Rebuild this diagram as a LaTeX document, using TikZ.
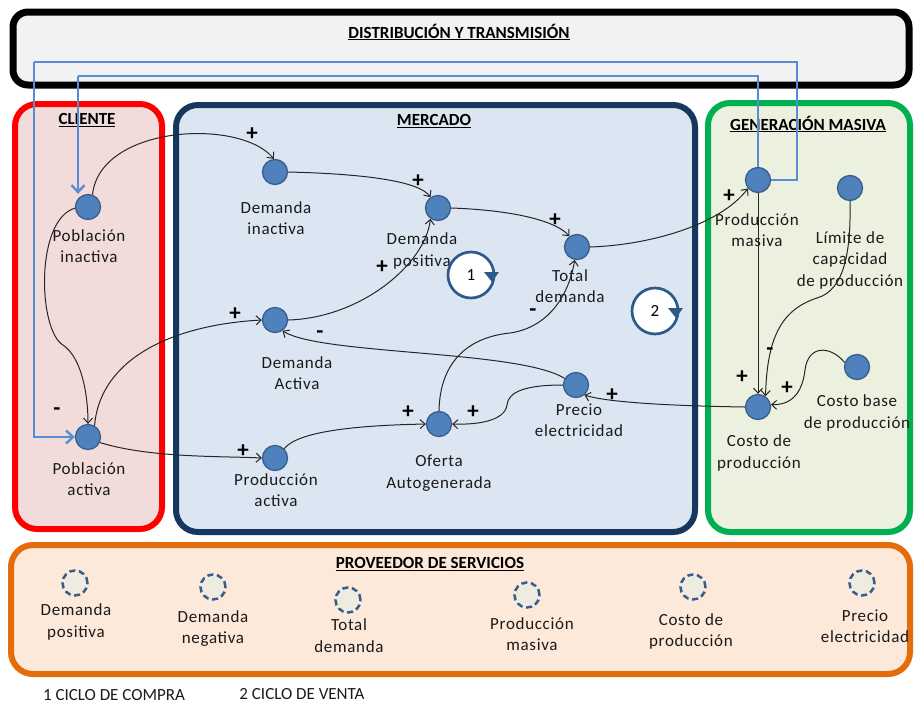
\documentclass[tikz,border=0pt]{standalone}
\usepackage{fontspec}
\setmainfont{Carlito}
\newfontfamily\lblfont[LetterSpace=4]{Carlito}
\usetikzlibrary{arrows.meta,shapes.geometric}
\definecolor{nodefill}{HTML}{4F81BD}
\definecolor{nodeborder}{HTML}{385D8A}
\definecolor{ghostfill}{HTML}{EEECE1}
\definecolor{ghostborder}{HTML}{385D8A}
\definecolor{labeltext}{HTML}{1A1A1A}
\definecolor{linecol}{HTML}{262626}
\definecolor{bluecol}{HTML}{558ED5}
\definecolor{loopcol}{HTML}{2C5A8C}
\definecolor{topfill}{HTML}{F2F2F2}
\definecolor{clifill}{HTML}{F2DCDB}
\definecolor{clidraw}{HTML}{FF0000}
\definecolor{merfill}{HTML}{DCE6F2}
\definecolor{merdraw}{HTML}{17375E}
\definecolor{genfill}{HTML}{EBF1DE}
\definecolor{gendraw}{HTML}{00B050}
\definecolor{provfill}{HTML}{FDE9D9}
\definecolor{provdraw}{HTML}{E46C0A}
\begin{document}
\begin{tikzpicture}[x=1pt,y=-1pt,
  var/.style={circle, minimum size=25pt, inner sep=0pt, fill=nodefill, draw=nodeborder, line width=1.3pt},
  ghost/.style={circle, minimum size=25pt, inner sep=0pt, fill=ghostfill, draw=ghostborder, line width=2.5pt, dash pattern=on 6pt off 3.6pt},
  lbl/.style={font=\lblfont\fontsize{17}{21.5}\selectfont, align=center, text=labeltext, inner sep=0pt},
  ttl/.style={font=\bfseries\fontsize{17}{20}\selectfont, inner sep=0pt},
  plain/.style={font=\fontsize{17}{20}\selectfont, inner sep=0pt, text=labeltext},
  sgn/.style={font=\bfseries\fontsize{23}{23}\selectfont, inner sep=0pt},
  cl/.style={draw=linecol, line width=1pt, -{Straight Barb[length=5pt,width=9pt]}},
  bl/.style={draw=bluecol, line width=2.6pt},
  bla/.style={bl, -{Straight Barb[length=7pt,width=13pt,line width=2.4pt]}},
  loopc/.style={circle, minimum size=46pt, inner sep=0pt, fill=white, draw=loopcol, line width=2.7pt, font=\fontsize{17}{20}\selectfont},
  frame/.style={line width=6pt, rounded corners=22pt}
]
\useasboundingbox (0,0) rectangle (914,705);

% frames
\draw[frame, rounded corners=15pt, draw=black, fill=topfill, line width=7pt] (13,12) rectangle (909,85);
\draw[frame, draw=clidraw, fill=clifill] (15,104) rectangle (162,529);
\draw[frame, draw=merdraw, fill=merfill] (176,105) rectangle (695,532);
\draw[frame, draw=gendraw, fill=genfill] (708,103) rectangle (910,532);
\draw[frame, draw=provdraw, fill=provfill] (11,545) rectangle (910,674);

% titles
\node[ttl] (tDT) at (459,32) {\underline{DISTRIBUCIÓN Y TRANSMISIÓN}};
\node[ttl] (tCL) at (87,120) {\underline{CLIENTE}};
\node[ttl] (tME) at (434,121) {\underline{MERCADO}};
\node[ttl] (tGM) at (808,124) {\underline{GENERACIÓN MASIVA}};
\node[ttl] (tPS) at (430,564) {\underline{PROVEEDOR DE SERVICIOS}};

% variables
\node[var] (PI) at (88,207) {};
\node[var] (PA) at (88,437) {};
\node[var] (DI) at (275,172) {};
\node[var] (DP) at (438,208) {};
\node[var] (TD) at (577,247) {};
\node[var] (DA) at (275,320) {};
\node[var] (OA) at (439,424) {};
\node[var] (PE) at (576,385) {};
\node[var] (PR) at (275,458) {};
\node[var] (PM) at (758,180) {};
\node[var] (LC) at (850,188) {};
\node[var] (CP) at (758,407) {};
\node[var] (CB) at (857,367) {};

% labels
\node[lbl] (lPI) at (89,246) {Población\\inactiva};
\node[lbl] (lPA) at (89,479) {Población\\activa};
\node[lbl] (lDI) at (276,218) {Demanda\\inactiva};
\node[lbl] (lDP) at (422,251) {Demanda\\positiva};
\node[lbl] (lTD) at (570,286) {Total\\demanda};
\node[lbl] (lDA) at (297,373) {Demanda\\Activa};
\node[lbl] (lOA) at (439,473) {Oferta\\Autogenerada};
\node[lbl] (lPE) at (579,420) {Precio\\electricidad};
\node[lbl] (lPR) at (276,490) {Producción\\activa};
\node[lbl] (lPM) at (757,230) {Producción\\masiva};
\node[lbl] (lLC) at (850,260) {Límite de\\capacidad\\de producción};
\node[lbl] (lCP) at (759,453) {Costo de\\producción};
\node[lbl] (lCB) at (857,413) {Costo base\\de producción};

% loops
\node[loopc] (L1) at (471,275) {1};
\fill[loopcol] (484,272) -- (499,272) -- (492,282) -- cycle;
\node[loopc] (L2) at (655,311) {2};
\fill[loopcol] (668,308) -- (683,308) -- (676,318) -- cycle;

% blue connectors
\coordinate (bTR) at (797,62);
\coordinate (bTL) at (34,62);
\coordinate (iTR) at (758,76);
\coordinate (iTL) at (78,76);
\draw[bl] (PM.east) -| (bTR) -- (bTL);
\draw[bla] (bTL) |- (PA.west);
\draw[bl] (PM.north) -- (iTR) -- (iTL);
\draw[bla] (iTL) -- (iTL |- PI.north);

% black connectors
\draw[cl] (PI.70) .. controls (100,125) and (240,118) .. (DI.95);
\draw[cl] (PI.185) .. controls (35,220) and (38,330) .. (63,345) .. controls (82,358) and (88,395) .. (PA.north);
\draw[cl] (PA.60) .. controls (100,360) and (170,325) .. (DA.west);
\draw[cl] (PA.-25) .. controls (150,458) and (220,456) .. (PR.west);
\draw[cl] (DI.east) .. controls (370,174) and (420,182) .. (DP.125);
\draw[cl] (DA.east) .. controls (360,318) and (425,265) .. (DP.235);
\draw[cl] (DP.east) .. controls (510,210) and (555,220) .. (TD.125);
\draw[cl] (TD.east) .. controls (650,245) and (720,225) .. (PM.220);
\draw[cl] (OA.north) .. controls (440,360) and (470,337) .. (510,333) .. controls (545,328) and (568,300) .. (TD.260);
\draw[cl] (PE.150) .. controls (520,350) and (320,355) .. (DA.-55);
\draw[cl] (PE.west) .. controls (525,385) and (508,392) .. (507,405) .. controls (505,420) and (480,425) .. (OA.east);
\draw[cl] (PR.45) .. controls (300,428) and (380,425) .. (OA.west);
\draw[cl] (CP.west) .. controls (680,406) and (610,403) .. (PE.-50);
\draw[cl] (PM.south) -- (CP.north);
\draw[cl] (LC.south) .. controls (851,250) and (845,290) .. (817,298) .. controls (780,310) and (767,340) .. (CP.55);
\draw[cl] (CB.160) .. controls (830,345) and (808,345) .. (805,370) .. controls (802,395) and (790,405) .. (CP.10);

% signs
\node[sgn] (s1) at (252,134) {+};
\node[sgn] (s2) at (418,181) {+};
\node[sgn] (s3) at (382,267) {+};
\node[sgn] (s4) at (235,314) {+};
\node[sgn] (s5) at (320,335) {-};
\node[sgn] (s6) at (555,220) {+};
\node[sgn] (s7) at (729,196) {+};
\node[sgn] (s8) at (533,313) {-};
\node[sgn] (s9) at (243,451) {+};
\node[sgn] (s10) at (408,412) {+};
\node[sgn] (s11) at (473,412) {+};
\node[sgn] (s12) at (612,395) {+};
\node[sgn] (s13) at (742,377) {+};
\node[sgn] (s14) at (770,352) {-};
\node[sgn] (s15) at (787,388) {+};
\node[sgn] (s16) at (57,412) {-};

% service provider
\node[ghost] (G1) at (75,583) {};
\node[ghost] (G2) at (213,587) {};
\node[ghost] (G3) at (348,600) {};
\node[ghost] (G4) at (527,595) {};
\node[ghost] (G5) at (693,587) {};
\node[ghost] (G6) at (862,583) {};
\node[lbl] (lG1) at (76,622) {Demanda\\positiva};
\node[lbl] (lG2) at (213,628.5) {Demanda\\negativa};
\node[lbl] (lG3) at (349,635.5) {Total\\demanda};
\node[lbl] (lG4) at (532,634) {Producción\\masiva};
\node[lbl] (lG5) at (691,631.5) {Costo de\\producción};
\node[lbl] (lG6) at (865,626) {Precio\\electricidad};

% legend
\node[plain] (leg1) at (114,695) {1 CICLO DE COMPRA};
\node[plain] (leg2) at (302,694) {2 CICLO DE VENTA};
\end{tikzpicture}
\end{document}
